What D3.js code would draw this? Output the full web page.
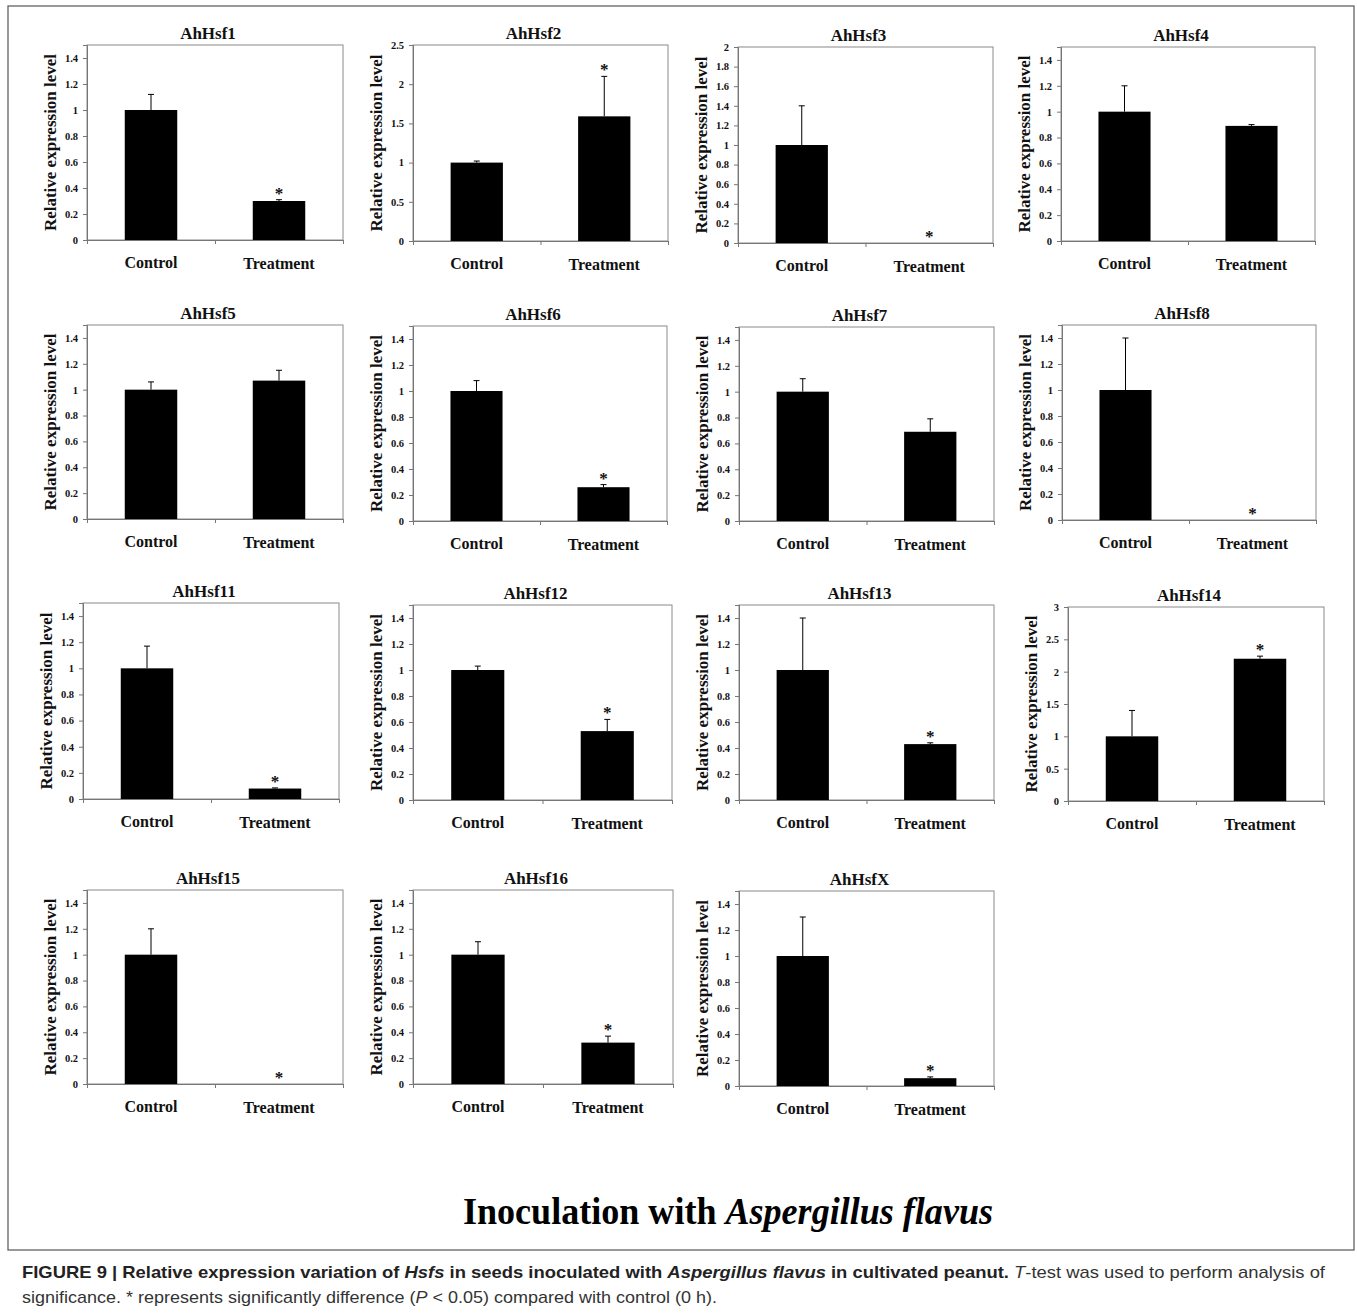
<!DOCTYPE html>
<html>
<head>
<meta charset="utf-8">
<script src="https://cdn.jsdelivr.net/npm/d3@7"></script>
<style>
  body { margin: 0; background: #fff; }
  svg { display: block; }
  .serif { font-family: "Liberation Serif", "Times New Roman", serif; }
  .cap { font-family: "Liberation Sans", Arial, sans-serif; }
</style>
</head>
<body>
<svg id="fig" width="1357" height="1315"></svg>
<script>
// data
const categories = ["Control", "Treatment"]
const genes = ["AhHsf1", "AhHsf2", "AhHsf3", "AhHsf4",
               "AhHsf5", "AhHsf6", "AhHsf7", "AhHsf8",
               "AhHsf11", "AhHsf12", "AhHsf13", "AhHsf14",
               "AhHsf15", "AhHsf16", "AhHsfX"]
const controlMean = [1, 1, 1, 1, 1, 1, 1, 1, 1, 1, 1, 1, 1, 1, 1]
const controlSD   = [0.12, 0.02, 0.40, 0.20, 0.06, 0.08, 0.10, 0.40, 0.17, 0.03, 0.40, 0.40, 0.20, 0.10, 0.30]
const treatMean   = [0.30, 1.59, 0, 0.89, 1.07, 0.26, 0.69, 0, 0.08, 0.53, 0.43, 2.20, 0, 0.32, 0.06]
const treatSD     = [0.01, 0.51, 0, 0.01, 0.08, 0.02, 0.10, 0, 0.005, 0.09, 0.01, 0.04, 0, 0.05, 0.01]
const significant = [true, true, true, false, false, true, false, true, true, true, true, true, true, true, true]
const yMax  = [1.5, 2.5, 2, 1.5, 1.5, 1.5, 1.5, 1.5, 1.5, 1.5, 1.5, 3, 1.5, 1.5, 1.5]
const yStep = [0.2, 0.5, 0.2, 0.2, 0.2, 0.2, 0.2, 0.2, 0.2, 0.2, 0.2, 0.5, 0.2, 0.2, 0.2]

// plot area of each panel: [left, top, right, bottom]
const boxes = [
  [87, 45, 343, 240], [413, 45, 668, 241], [738, 47, 993, 243], [1061, 47, 1315, 241],
  [87, 325, 343, 519], [413, 326, 667, 521], [739, 327, 994, 521], [1062, 325, 1316, 520],
  [83, 603, 339, 799], [413, 605, 672, 800], [739, 605, 994, 800], [1068, 607, 1324, 801],
  [87, 890, 343, 1084], [413, 890, 673, 1084], [739, 891, 994, 1086]
]

const svg = d3.select("#fig")
const fmt = d => String(+d.toFixed(1))

// outer frame
svg.append("rect")
  .attr("x", 8).attr("y", 6).attr("width", 1346).attr("height", 1244)
  .attr("fill", "none").attr("stroke", "#555").attr("stroke-width", 1.2)

genes.forEach((gene, i) => {
  const [l, t, r, b] = boxes[i]
  const w = r - l, h = b - t
  const g = svg.append("g").attr("class", "serif").attr("transform", `translate(${l},${t})`)

  const x = d3.scaleBand().domain(categories).range([0, w])
    .paddingInner(0.59).paddingOuter(0.295)
  const y = d3.scaleLinear().domain([0, yMax[i]]).range([h, 0])

  const rows = [
    { cat: categories[0], mean: controlMean[i], sd: controlSD[i], star: false },
    { cat: categories[1], mean: treatMean[i], sd: treatSD[i], star: significant[i] }
  ]

  // plot border
  g.append("rect").attr("width", w).attr("height", h)
    .attr("fill", "none").attr("stroke", "#8a8a8a").attr("stroke-width", 1)

  // y axis
  const ticks = d3.range(0, yMax[i] + 1e-9, yStep[i])
  const ya = g.append("g")
    .call(d3.axisLeft(y).tickValues(ticks).tickFormat(fmt).tickSize(4).tickPadding(5))
  ya.select(".domain").attr("stroke", "#777")
  ya.selectAll(".tick line").attr("stroke", "#777")
  ya.selectAll("text").attr("font-family", "Liberation Serif, Times New Roman, serif")
    .attr("font-weight", "bold").attr("font-size", 10.5).attr("fill", "#111")

  // x axis with boundary ticks only
  const xa = g.append("g").attr("transform", `translate(0,${h})`)
    .call(d3.axisBottom(d3.scaleLinear().domain([0, 2]).range([0, w]))
      .tickValues([0, 1, 2]).tickFormat("").tickSize(4))
  xa.select(".domain").attr("stroke", "#777")
  xa.selectAll(".tick line").attr("stroke", "#777")

  // category labels
  g.selectAll(".cat").data(categories).enter().append("text")
    .attr("x", d => x(d) + x.bandwidth() / 2)
    .attr("y", (d, k) => h + 28 + k)
    .attr("text-anchor", "middle")
    .attr("font-weight", "bold").attr("font-size", 16).attr("fill", "#111")
    .text(d => d)

  // bars
  g.selectAll(".bar").data(rows.filter(d => d.mean > 0)).enter().append("rect")
    .attr("x", d => x(d.cat))
    .attr("width", x.bandwidth())
    .attr("y", d => y(d.mean))
    .attr("height", d => h - y(d.mean))
    .attr("fill", "#000")

  // error bars (upper only)
  const eb = rows.filter(d => d.sd > 0)
  g.selectAll(".err").data(eb).enter().append("line")
    .attr("x1", d => x(d.cat) + x.bandwidth() / 2)
    .attr("x2", d => x(d.cat) + x.bandwidth() / 2)
    .attr("y1", d => y(d.mean))
    .attr("y2", d => y(d.mean + d.sd))
    .attr("stroke", "#000").attr("stroke-width", 1)
  g.selectAll(".cap").data(eb).enter().append("line")
    .attr("x1", d => x(d.cat) + x.bandwidth() / 2 - 3)
    .attr("x2", d => x(d.cat) + x.bandwidth() / 2 + 3)
    .attr("y1", d => y(d.mean + d.sd))
    .attr("y2", d => y(d.mean + d.sd))
    .attr("stroke", "#000").attr("stroke-width", 1)

  // significance marks
  g.selectAll(".star").data(rows.filter(d => d.star)).enter().append("text")
    .attr("x", d => x(d.cat) + x.bandwidth() / 2)
    .attr("y", d => y(d.mean + d.sd) - 1)
    .attr("text-anchor", "middle")
    .attr("font-weight", "bold").attr("font-size", 17).attr("fill", "#111")
    .text("*")

  // title
  g.append("text")
    .attr("x", w / 2 - 7).attr("y", -6)
    .attr("text-anchor", "middle")
    .attr("font-weight", "bold").attr("font-size", 17).attr("fill", "#111")
    .text(gene)

  // y axis title
  g.append("text")
    .attr("transform", `translate(-31,${h / 2}) rotate(-90)`)
    .attr("text-anchor", "middle")
    .attr("font-weight", "bold").attr("font-size", 17).attr("fill", "#111")
    .text("Relative expression level")
})

// big heading
const head = svg.append("text").attr("class", "serif")
  .attr("x", 463).attr("y", 1224)
  .attr("font-weight", "bold").attr("font-size", 38).attr("fill", "#000")
  .attr("textLength", 530).attr("lengthAdjust", "spacingAndGlyphs")
head.append("tspan").text("Inoculation with ")
head.append("tspan").attr("font-style", "italic").text("Aspergillus flavus")

// caption
const cap1 = svg.append("text").attr("class", "cap")
  .attr("x", 22).attr("y", 1278).attr("font-size", 17).attr("fill", "#333")
  .attr("textLength", 1303).attr("lengthAdjust", "spacingAndGlyphs")
cap1.append("tspan").attr("font-weight", "bold").attr("fill", "#222").text("FIGURE 9 | Relative expression variation of ")
cap1.append("tspan").attr("font-weight", "bold").attr("font-style", "italic").attr("fill", "#222").text("Hsfs")
cap1.append("tspan").attr("font-weight", "bold").attr("fill", "#222").text(" in seeds inoculated with ")
cap1.append("tspan").attr("font-weight", "bold").attr("font-style", "italic").attr("fill", "#222").text("Aspergillus flavus")
cap1.append("tspan").attr("font-weight", "bold").attr("fill", "#222").text(" in cultivated peanut. ")
cap1.append("tspan").attr("font-style", "italic").text("T")
cap1.append("tspan").text("-test was used to perform analysis of")

const cap2 = svg.append("text").attr("class", "cap")
  .attr("x", 22).attr("y", 1303).attr("font-size", 17).attr("fill", "#333")
  .attr("textLength", 695).attr("lengthAdjust", "spacingAndGlyphs")
cap2.append("tspan").text("significance. * represents significantly difference (")
cap2.append("tspan").attr("font-style", "italic").text("P")
cap2.append("tspan").text(" < 0.05) compared with control (0 h).")
</script>
</body>
</html>
